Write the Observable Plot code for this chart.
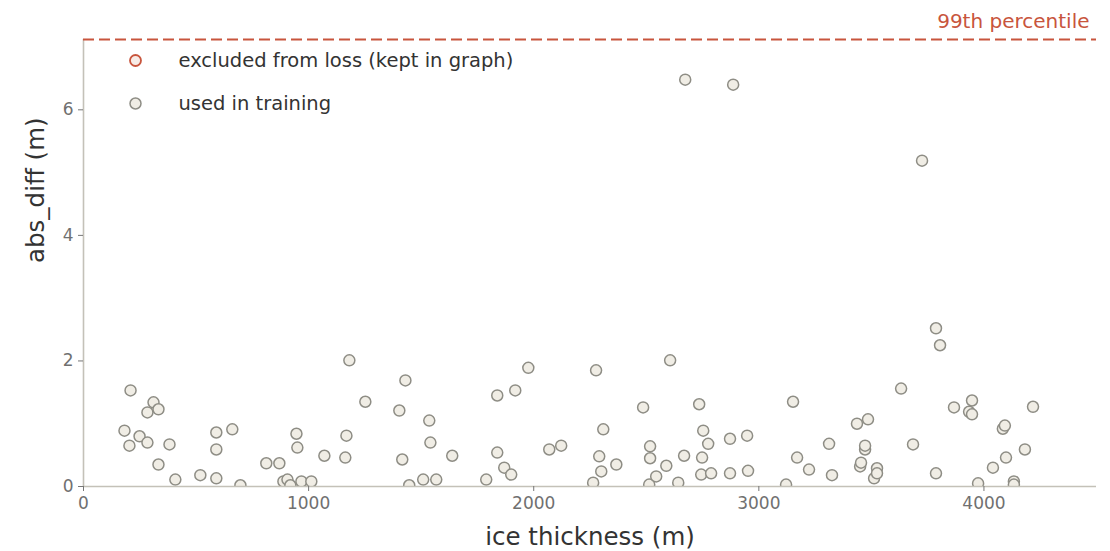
<!DOCTYPE html>
<html>
<head>
<meta charset="utf-8">
<script src="https://cdn.jsdelivr.net/npm/d3@7"></script>
<script src="https://cdn.jsdelivr.net/npm/@observablehq/plot@0.6"></script>
<style>
  html, body { margin: 0; padding: 0; background: #fff; }
  #chart svg { display: block; }
</style>
</head>
<body>
<div id="chart"></div>
<script>
// ice thickness (m)
const thickness = [
  182, 204, 209, 249, 284, 284, 311, 333, 333, 382, 408, 519, 590, 590, 590, 661, 697,
  812, 870, 888, 906, 919, 946, 950, 968, 1012, 1070, 1163, 1168, 1181, 1252, 1403,
  1416, 1430, 1447, 1509, 1536, 1541, 1567, 1638,
  1789, 1838, 1838, 1869, 1900, 1918, 1976, 2069, 2122, 2264, 2277, 2291, 2300, 2309,
  2367, 2486, 2513, 2517, 2517, 2544, 2589, 2606, 2642, 2668, 2673, 2735, 2744, 2748,
  2753, 2775, 2788, 2872, 2872, 2886, 2948, 2952, 3121,
  3152, 3170, 3223, 3312, 3325, 3436, 3450, 3454, 3472, 3472, 3485, 3512, 3525, 3525,
  3632, 3685, 3725, 3787, 3787, 3805, 3867, 3934, 3947, 3947, 3974, 4040, 4084, 4093,
  4098, 4133, 4133, 4182, 4218
];
// abs_diff (m)
const absDiff = [
  0.89, 0.65, 1.53, 0.80, 1.18, 0.70, 1.34, 1.23, 0.35, 0.67, 0.11, 0.18, 0.59, 0.86, 0.13, 0.91, 0.02,
  0.37, 0.37, 0.08, 0.11, 0.02, 0.84, 0.62, 0.08, 0.08, 0.49, 0.46, 0.81, 2.01, 1.35, 1.21,
  0.43, 1.69, 0.02, 0.11, 1.05, 0.70, 0.11, 0.49,
  0.11, 0.54, 1.45, 0.30, 0.19, 1.53, 1.89, 0.59, 0.65, 0.06, 1.85, 0.48, 0.24, 0.91,
  0.35, 1.26, 0.03, 0.45, 0.64, 0.16, 0.33, 2.01, 0.06, 0.49, 6.48, 1.31, 0.19, 0.46,
  0.89, 0.68, 0.21, 0.76, 0.21, 6.40, 0.81, 0.25, 0.03,
  1.35, 0.46, 0.27, 0.68, 0.18, 1.00, 0.32, 0.38, 0.59, 0.65, 1.07, 0.13, 0.29, 0.21,
  1.56, 0.67, 5.19, 2.52, 0.21, 2.25, 1.26, 1.19, 1.37, 1.15, 0.05, 0.30, 0.92, 0.97,
  0.46, 0.08, 0.03, 0.59, 1.27
];
const p99 = 7.12;
const xTicks = [0, 1000, 2000, 3000, 4000];
const yTicks = [0, 2, 4, 6];
const legendLabels = ["excluded from loss (kept in graph)", "used in training"];
const p99Label = "99th percentile";

const points = thickness.map((t, i) => ({thickness: t, absDiff: absDiff[i]}));

const font = "DejaVu Sans, Liberation Sans, sans-serif";
const spine = "#c4c1b8";
const tickText = "#707070";
const labelText = "#333333";
const red = "#c8553d";
const ptFill = "#f0ede5";
const ptStroke = "#8e8d85";

const chart = Plot.plot({
  width: 1110,
  height: 551,
  marginLeft: 83,
  marginRight: 14,
  marginTop: 39,
  marginBottom: 65,
  style: {fontFamily: font, background: "#fff", overflow: "visible"},
  x: {domain: [0, 4500]},
  y: {domain: [0, p99]},
  marks: [
    Plot.dot(points, {x: "thickness", y: "absDiff", r: 5.5, fill: ptFill, stroke: ptStroke, strokeWidth: 1.5, clip: true}),
    Plot.ruleY([0], {stroke: spine, strokeWidth: 1.6}),
    Plot.ruleX([0], {stroke: spine, strokeWidth: 1.6}),
    Plot.axisX({ticks: xTicks, tickSize: 5, tickPadding: 5, fontSize: 17, stroke: "#777", fill: tickText, label: null, tickFormat: d => String(d)}),
    Plot.axisY({ticks: yTicks, tickSize: 5, tickPadding: 5, fontSize: 17, stroke: "#777", fill: tickText, label: null}),
    Plot.ruleY([p99], {stroke: red, strokeWidth: 2.2, strokeDasharray: "11,5"}),
    Plot.text([p99Label], {x: 4500, y: p99, text: d => d, dx: -7, dy: -18, textAnchor: "end", fontSize: 20, fill: red}),
    // legend
    Plot.dot([legendLabels[0]], {frameAnchor: "top-left", dx: 52, dy: 21, r: 5.5, fill: "#f7ebe6", stroke: red, strokeWidth: 1.8}),
    Plot.dot([legendLabels[1]], {frameAnchor: "top-left", dx: 52, dy: 64, r: 5.5, fill: ptFill, stroke: ptStroke, strokeWidth: 1.5}),
    Plot.text([legendLabels[0]], {frameAnchor: "top-left", text: d => d, dx: 95, dy: 21, textAnchor: "start", lineAnchor: "middle", fontSize: 19.5, fill: labelText}),
    Plot.text([legendLabels[1]], {frameAnchor: "top-left", text: d => d, dx: 95, dy: 64, textAnchor: "start", lineAnchor: "middle", fontSize: 19.5, fill: labelText}),
    // axis labels
    Plot.text(["ice thickness (m)"], {frameAnchor: "bottom", text: d => d, dy: 51, lineAnchor: "middle", fontSize: 24.5, fill: labelText}),
    Plot.text(["abs_diff (m)"], {frameAnchor: "left", text: d => d, dx: -47, rotate: -90, lineAnchor: "middle", fontSize: 24.5, fill: labelText})
  ]
});
document.getElementById("chart").appendChild(chart);
</script>
</body>
</html>
